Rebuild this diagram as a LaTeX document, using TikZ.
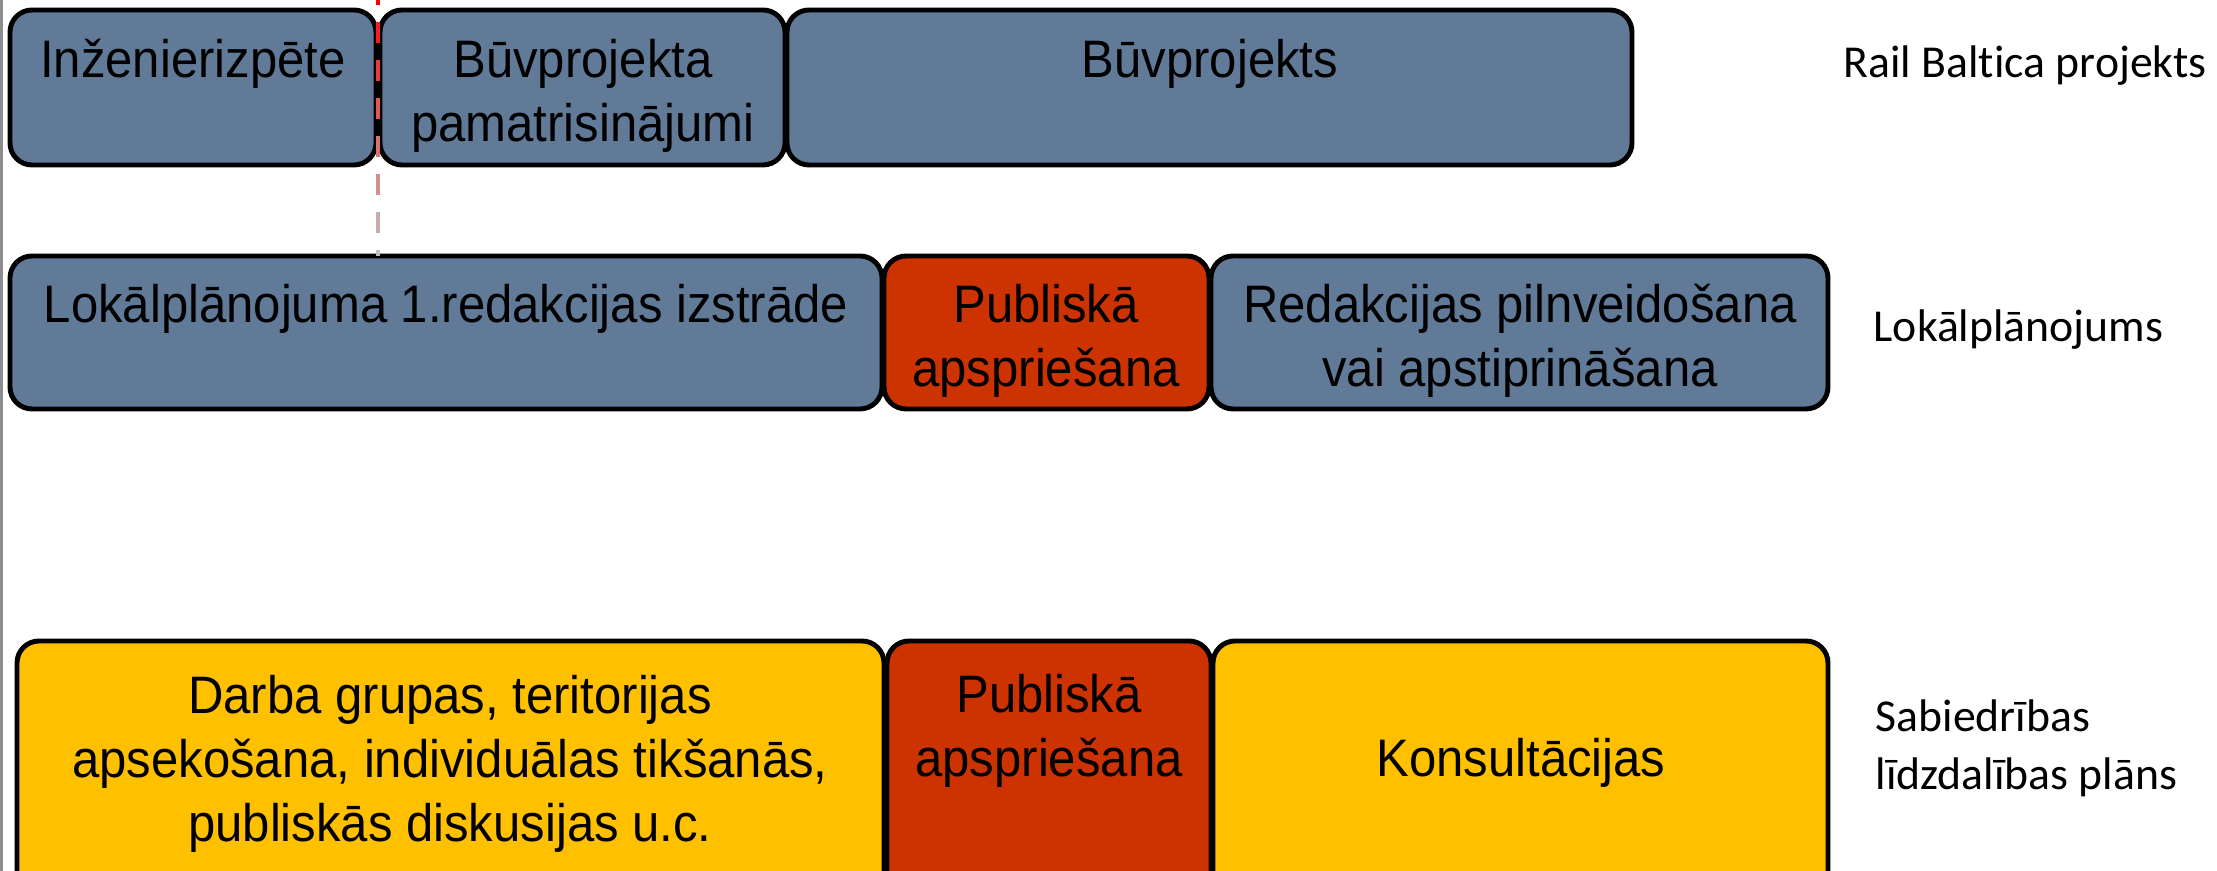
\documentclass[tikz,border=0pt]{standalone}
\usepackage{fontspec}
\setmainfont{Liberation Sans}[FakeStretch=0.93]
\newfontfamily\labelfont{Carlito}[Ligatures=NoCommon]
\definecolor{slate}{RGB}{96,122,152}
\definecolor{brick}{RGB}{204,51,0}
\definecolor{amber}{RGB}{255,192,0}
\tikzset{
  phase/.style={draw=black, line width=1.4pt, rounded corners=0.22cm},
  phasetext/.style={anchor=base, align=center, inner sep=0pt,
    font=\fontsize{15}{18.2}\selectfont},
  rowlabel/.style={anchor=base west, align=left, inner sep=0pt,
    font=\labelfont\fontsize{13}{16.5}\selectfont},
}
\begin{document}
\begin{tikzpicture}[x=0.01cm, y=-0.01cm]
    \pgfmathsetmacro{\ta}{10}
    \pgfmathsetmacro{\ba}{165}
    \pgfmathsetmacro{\tb}{256}
    \pgfmathsetmacro{\bb}{409}
    \pgfmathsetmacro{\tc}{641}
    \pgfmathsetmacro{\bc}{905}
    \useasboundingbox (0, 0) rectangle (2217, 871);
    \draw[black!45, line width=0.85pt] (1.5, 0)--(1.5, 871);
    \draw[phase, fill=slate] (10, \ta) rectangle (376, \ba);
    \draw[phase, fill=slate] (380, \ta) rectangle (785, \ba);
    \draw[phase, fill=slate] (787, \ta) rectangle (1632, \ba);
    \draw[phase, fill=slate] (10, \tb) rectangle (882, \bb);
    \draw[phase, fill=brick] (884, \tb) rectangle (1209, \bb);
    \draw[phase, fill=slate] (1211, \tb) rectangle (1828, \bb);
    \draw[phase, fill=amber] (17, \tc) rectangle (884, \bc);
    \draw[phase, fill=brick] (887, \tc) rectangle (1211, \bc);
    \draw[phase, fill=amber] (1213, \tc) rectangle (1828, \bc);
    \foreach \i in {0,...,7}{
      \pgfmathtruncatemacro{\shade}{max(0, 100-15*\i)}
      \pgfmathsetmacro{\ystart}{-16+38*\i}
      \pgfmathsetmacro{\yend}{min(5+38*\i, \tb)}
      \draw[line width=1.1pt, red!\shade!lightgray] (378, \ystart)--(378, \yend);
    }
    \node[phasetext] (inz) at (193, 78) {Inženierizpēte};
    \node[phasetext] (pamat) at (583, 142) {Būvprojekta\\pamatrisinājumi};
    \node[phasetext] (buvpr) at (1210, 78) {Būvprojekts};
    \node[phasetext] (lokred) at (446, 323) {Lokālplānojuma 1.redakcijas izstrāde};
    \node[phasetext] (publa) at (1046, 387) {Publiskā\\apspriešana};
    \node[phasetext] (redpil) at (1520, 387) {Redakcijas pilnveidošana\\vai apstiprināšana};
    \node[phasetext] (darba) at (450, 842) {Darba grupas, teritorijas\\%
    apsekošana, individuālas tikšanās,\\publiskās diskusijas u.c.};
    \node[phasetext] (publb) at (1049, 777) {Publiskā\\apspriešana};
    \node[phasetext] (kons) at (1521, 777) {Konsultācijas};
    \node[rowlabel] (rbp) at (1843, 78) {Rail Baltica projekts};
    \node[rowlabel] (lokp) at (1873, 342) {Lokālplānojums};
    \node[rowlabel] (slp) at (1875, 790) {Sabiedrības\\līdzdalības plāns};
  \end{tikzpicture}
\end{document}
